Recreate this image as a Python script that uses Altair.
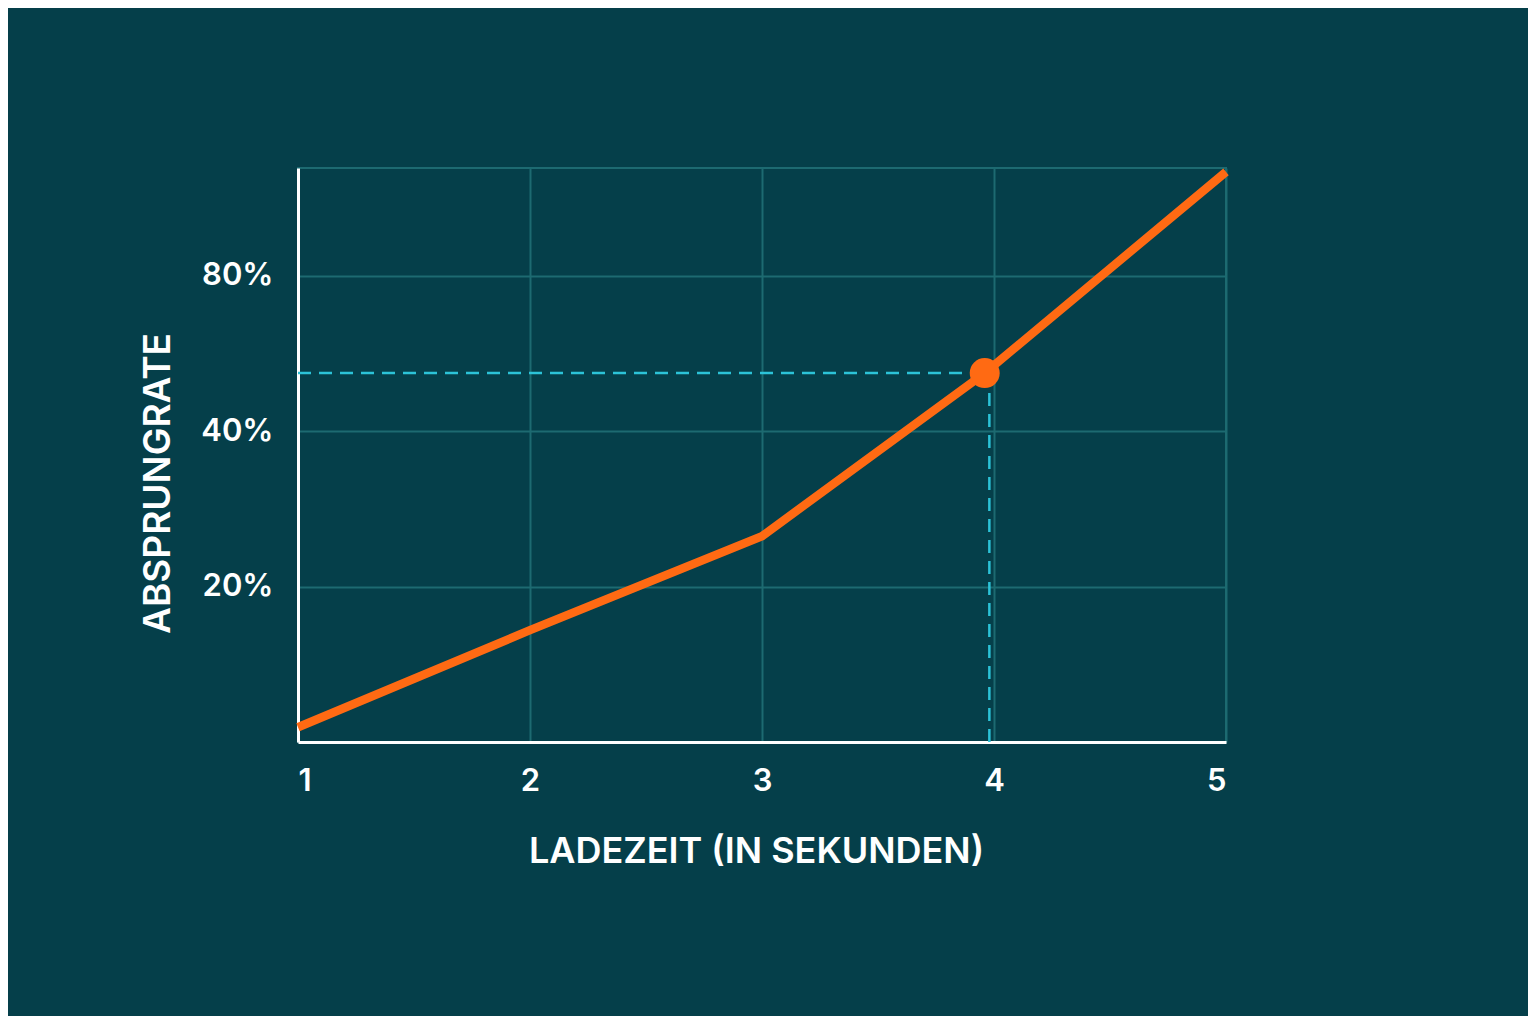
import altair as alt
import pandas as pd

# Data
load_time = [1, 2, 3, 3.96, 5]
bounce_rate = [1.9, 14.4, 26.5, 47.5, 73.4]
x_ticks = [1, 2, 3, 4, 5]
y_ticks = [20, 40, 60]
y_tick_labels = ["20%", "40%", "80%"]
highlight_x = [3.96]
highlight_y = [47.5]
guide_x = [3.98]

BG = "#053F4A"
GRID = "#1D6A71"
ORANGE = "#FF6A13"
CYAN = "#2CC3D8"
FONT = "Inter"

df = pd.DataFrame({"t": load_time, "r": bounce_rate})
hl = pd.DataFrame({"t": highlight_x, "r": highlight_y, "t0": [1], "r0": [0], "tg": guide_x})

label_expr = " : ".join(
    f"datum.value == {v} ? '{l}'" for v, l in zip(y_ticks, y_tick_labels)
) + " : ''"

xscale = alt.Scale(domain=[1, 5], nice=False, zero=False)
yscale = alt.Scale(domain=[0, 73.9], nice=False, zero=False)

x_enc = alt.X(
    "t:Q",
    scale=xscale,
    axis=alt.Axis(
        values=x_ticks,
        title="LADEZEIT (IN SEKUNDEN)",
        format="d",
        grid=True,
        gridColor=GRID,
        gridWidth=2,
        domainColor="white",
        domainWidth=3,
        ticks=False,
        labelPadding=24,
        labelFontSize=31,
        labelFont=FONT,
        labelFontWeight=600,
        labelColor="white",
        titleFont=FONT,
        titleFontSize=36,
        titleFontWeight=600,
        titleColor="white",
        titlePadding=38,
        titleX=458,
    ),
)
y_enc = alt.Y(
    "r:Q",
    scale=yscale,
    axis=alt.Axis(
        values=y_ticks,
        labelExpr=label_expr,
        title="ABSPRUNGRATE",
        grid=True,
        gridColor=GRID,
        gridWidth=2,
        domainColor="white",
        domainWidth=3,
        ticks=False,
        labelPadding=25,
        labelFontSize=31,
        labelFont=FONT,
        labelFontWeight=600,
        labelColor="white",
        titleFont=FONT,
        titleFontSize=37,
        titleFontWeight=600,
        titleColor="white",
        titlePadding=23,
        titleY=315,
    ),
)

line = alt.Chart(df).mark_line(color=ORANGE, strokeWidth=8.5, strokeCap="butt").encode(x=x_enc, y=y_enc)

hrule = alt.Chart(hl).mark_rule(color=CYAN, strokeWidth=2.5, strokeDash=[13, 8]).encode(
    x=alt.X("t0:Q", scale=xscale), x2="t:Q", y=alt.Y("r:Q", scale=yscale)
)
vrule = alt.Chart(hl).mark_rule(color=CYAN, strokeWidth=2.5, strokeDash=[13, 8]).encode(
    x=alt.X("tg:Q", scale=xscale), y=alt.Y("r0:Q", scale=yscale), y2="r:Q"
)
point = alt.Chart(hl).mark_point(filled=True, color=ORANGE, size=900, opacity=1, shape="circle").encode(
    x=alt.X("t:Q", scale=xscale), y=alt.Y("r:Q", scale=yscale)
)

chart = (
    alt.layer(hrule, vrule, line, point)
    .properties(
        width=928,
        height=574,
        background=BG,
        padding={"left": 290, "top": 160, "right": 302, "bottom": 274},
        autosize=alt.AutoSizeParams(type="none"),
    )
    .configure_view(stroke=GRID, strokeWidth=2)
)

chart.save("out.html", embed_options={"renderer": "svg", "actions": False})
